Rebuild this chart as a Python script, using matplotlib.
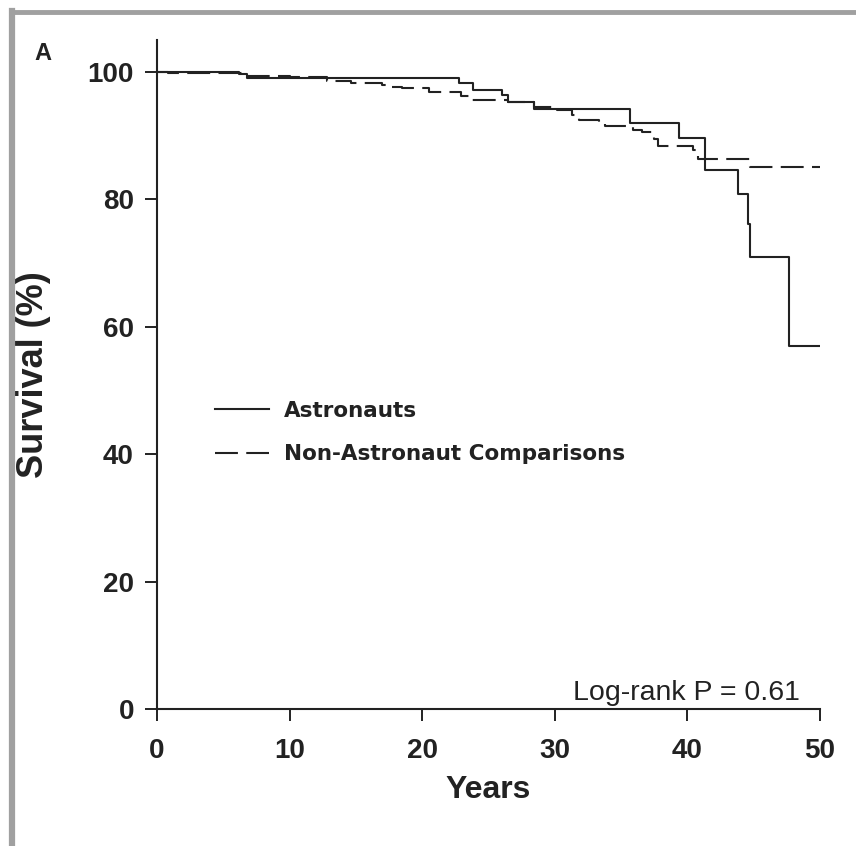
import matplotlib.pyplot as plt
from matplotlib.lines import Line2D

# Kaplan-Meier steps (years, survival %)
astro_years = [0, 6.2, 6.8, 22.8, 23.8, 26.0, 26.5, 28.4, 35.7, 39.4, 41.3,
               43.8, 44.6, 44.7, 47.7, 50.0]
astro_surv = [100, 99.7, 99.1, 98.2, 97.2, 96.3, 95.3, 94.1, 92.0, 89.7, 84.6,
              80.8, 76.2, 70.9, 57.0, 57.0]

comp_years = [0, 0.8, 6.6, 10.0, 12.8, 14.6, 17.0, 17.4, 18.5, 20.5, 22.9,
              23.5, 26.5, 28.4, 30.2, 31.3, 31.8, 33.3, 33.8, 35.9, 36.6,
              37.5, 37.8, 40.4, 40.8, 44.7, 50.0]
comp_surv = [100, 99.8, 99.3, 99.2, 98.6, 98.2, 97.9, 97.6, 97.4, 96.8, 96.2,
             95.6, 95.3, 94.5, 94.0, 93.3, 92.4, 91.9, 91.5, 90.9, 90.5,
             89.5, 88.3, 87.8, 86.4, 85.0, 85.0]

x_ticks = [0, 10, 20, 30, 40, 50]
y_ticks = [0, 20, 40, 60, 80, 100]

plt.rcParams['font.family'] = ['Liberation Sans', 'DejaVu Sans']

fig = plt.figure(figsize=(8.56, 8.46), dpi=100)
ax = fig.add_axes([0.1834, 0.1619, 0.7745, 0.7908])

ax.step(astro_years, astro_surv, where='post', color='#222222', lw=1.5,
        label='Astronauts')
ax.step(comp_years, comp_surv, where='post', color='#222222', lw=1.5,
        dashes=(11, 4), label='Non-Astronaut Comparisons')

ax.set_xlim(0, 50)
ax.set_ylim(0, 105)
ax.set_xticks(x_ticks)
ax.set_yticks(y_ticks)
ax.tick_params(direction='out', length=8.6, width=1.4, color='#222222',
               labelsize=20, pad=8, labelcolor='#222222')
for lab in ax.get_xticklabels() + ax.get_yticklabels():
    lab.set_fontweight('bold')
ax.tick_params(axis='x', pad=12)

for side in ['top', 'right']:
    ax.spines[side].set_visible(False)
for side in ['left', 'bottom']:
    ax.spines[side].set_linewidth(1.5)
    ax.spines[side].set_color('#222222')

ax.set_xlabel('Years', fontsize=23, fontweight='bold', color='#222222',
              labelpad=8)
ax.set_ylabel('Survival (%)', fontsize=26, fontweight='bold', color='#222222',
              labelpad=26)

leg = ax.legend(loc='upper left', bbox_to_anchor=(0.058, 0.49), frameon=False,
                prop={'family': 'DejaVu Sans', 'weight': 'bold', 'size': 15.5},
                handlelength=2.5, handletextpad=0.7, labelspacing=1.1)
for t in leg.get_texts():
    t.set_color('#222222')

ax.text(48.5, 1.4, 'Log-rank P = 0.61', fontsize=20.5, ha='right',
        va='baseline', color='#222222')

fig.text(0.040, 0.929, 'A', fontsize=17, fontweight='bold', color='#222222')

# grey frame on top and left edges
fig.add_artist(Line2D([0.0145, 1.0], [0.9855, 0.9855], color='#a0a0a0',
                      lw=3.5, transform=fig.transFigure))
fig.add_artist(Line2D([0.0145, 0.0145], [0.0, 0.9875], color='#a0a0a0',
                      lw=4.5, transform=fig.transFigure))

fig.savefig('out.png', dpi=100)
